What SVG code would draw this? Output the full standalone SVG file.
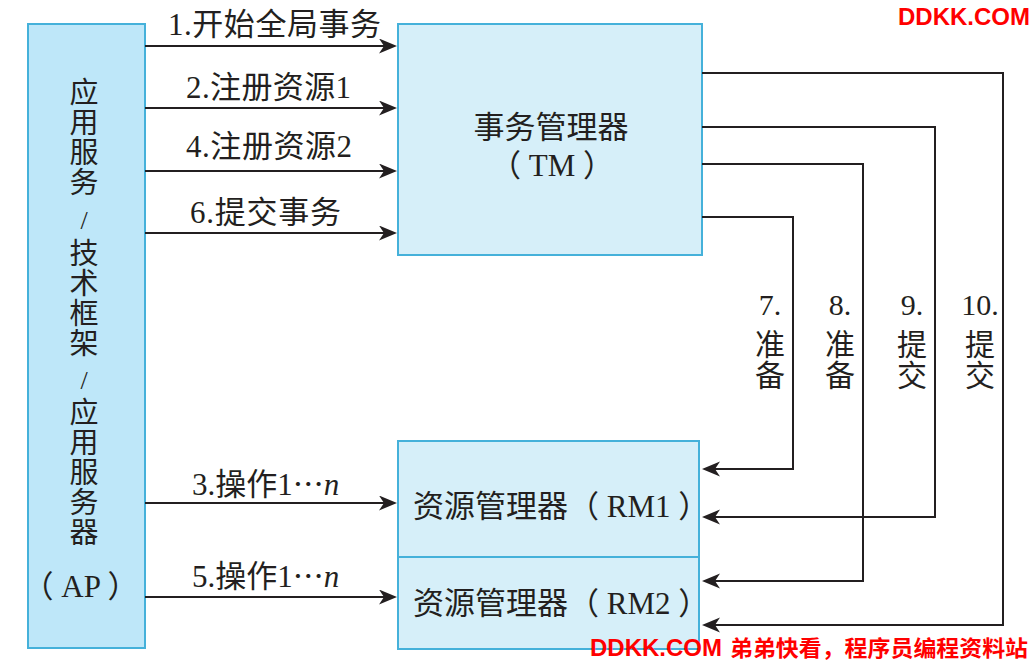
<svg xmlns="http://www.w3.org/2000/svg" width="1031" height="660" viewBox="0 0 1031 660">
<style>
.box{stroke:#45b1da;stroke-width:2}
.ap{fill:#bee7f9}
.lt{fill:#d6eff9}
.t{font-family:"Liberation Serif","Noto Sans CJK SC",serif;fill:#231f20;font-size:31px}
.v{font-family:"Liberation Serif","Noto Sans CJK SC",serif;fill:#231f20;font-size:30px;text-anchor:middle}
.col{font-size:29px}
.c{fill:none;stroke:#231f20;stroke-width:2}
.cj{font-family:"Noto Sans CJK SC",sans-serif}
.wm{font-family:"Liberation Sans","Noto Sans CJK SC",sans-serif;font-weight:bold;fill:#ff0000}
</style>
<defs>
<marker id="ah" markerUnits="userSpaceOnUse" markerWidth="20" markerHeight="16" refX="14" refY="7.5" orient="auto">
<path d="M0,0 L18,7.5 L0,15 L5,7.5 z" fill="#231f20"/>
</marker>
</defs>
<rect width="1031" height="660" fill="#ffffff"/>

<g id="ap">
<rect class="box ap" x="28" y="24" width="117" height="624"/>
<g class="v col">
<text x="84" y="103">应</text>
<text x="84" y="133">用</text>
<text x="84" y="163">服</text>
<text x="84" y="193">务</text>
<text x="84" y="229" font-size="26">/</text>
<text x="84" y="264">技</text>
<text x="84" y="294">术</text>
<text x="84" y="324">框</text>
<text x="84" y="354">架</text>
<text x="84" y="389" font-size="26">/</text>
<text x="84" y="423">应</text>
<text x="84" y="453">用</text>
<text x="84" y="483">服</text>
<text x="84" y="513">务</text>
<text x="84" y="543">器</text>
<text x="80.5" y="597" font-size="31">（ AP ）</text>
</g>
</g>

<g id="tm">
<rect class="box lt" x="398" y="24" width="304" height="231"/>
<text class="t" x="551" y="138" text-anchor="middle">事务管理器</text>
<text class="t" x="552" y="176" text-anchor="middle">（ TM ）</text>
</g>

<g id="rm1">
<rect class="box lt" x="398" y="441" width="301" height="116"/>
<text class="t" x="413" y="517">资源管理器（ RM1 ）</text>
</g>

<g id="rm2">
<rect class="box lt" x="398" y="557" width="301" height="92"/>
<text class="t" x="413" y="614">资源管理器（ RM2 ）</text>
</g>

<g id="connectors">
<path class="c" d="M145,46 H393" marker-end="url(#ah)"/>
<path class="c" d="M145,108 H393" marker-end="url(#ah)"/>
<path class="c" d="M145,171 H393" marker-end="url(#ah)"/>
<path class="c" d="M145,233 H393" marker-end="url(#ah)"/>
<path class="c" d="M145,503 H393" marker-end="url(#ah)"/>
<path class="c" d="M145,597 H393" marker-end="url(#ah)"/>
<path class="c" d="M702,73 H1003 V625 H706" marker-end="url(#ah)"/>
<path class="c" d="M702,127 H935 V517 H706" marker-end="url(#ah)"/>
<path class="c" d="M702,164 H863 V581 H706" marker-end="url(#ah)"/>
<path class="c" d="M702,217 H793 V469 H706" marker-end="url(#ah)"/>

<text class="t" x="168" y="35" textLength="213" lengthAdjust="spacing">1.开始全局事务</text>
<text class="t" x="186" y="98" textLength="165" lengthAdjust="spacing">2.注册资源1</text>
<text class="t" x="186" y="157" textLength="166" lengthAdjust="spacing">4.注册资源2</text>
<text class="t" x="190" y="223" textLength="151" lengthAdjust="spacing">6.提交事务</text>
<text class="t" x="192" y="495">3.操作1<tspan class="cj">…</tspan><tspan font-style="italic">n</tspan></text>
<text class="t" x="192" y="587">5.操作1<tspan class="cj">…</tspan><tspan font-style="italic">n</tspan></text>

<text class="v" x="770" y="315">7.</text>
<text class="v" x="770" y="355">准</text>
<text class="v" x="770" y="386">备</text>
<text class="v" x="840" y="315">8.</text>
<text class="v" x="840" y="355">准</text>
<text class="v" x="840" y="386">备</text>
<text class="v" x="912" y="315">9.</text>
<text class="v" x="912" y="355">提</text>
<text class="v" x="912" y="386">交</text>
<text class="v" x="980" y="315">10.</text>
<text class="v" x="980" y="355">提</text>
<text class="v" x="980" y="386">交</text>
</g>

<text class="wm" x="898" y="25" font-size="24">DDKK.COM</text>
<text class="wm" x="590" y="656" font-size="24">DDKK.COM</text>
<text class="wm" x="730" y="656" font-size="22" textLength="298" lengthAdjust="spacingAndGlyphs">弟弟快看，程序员编程资料站</text>
</svg>
